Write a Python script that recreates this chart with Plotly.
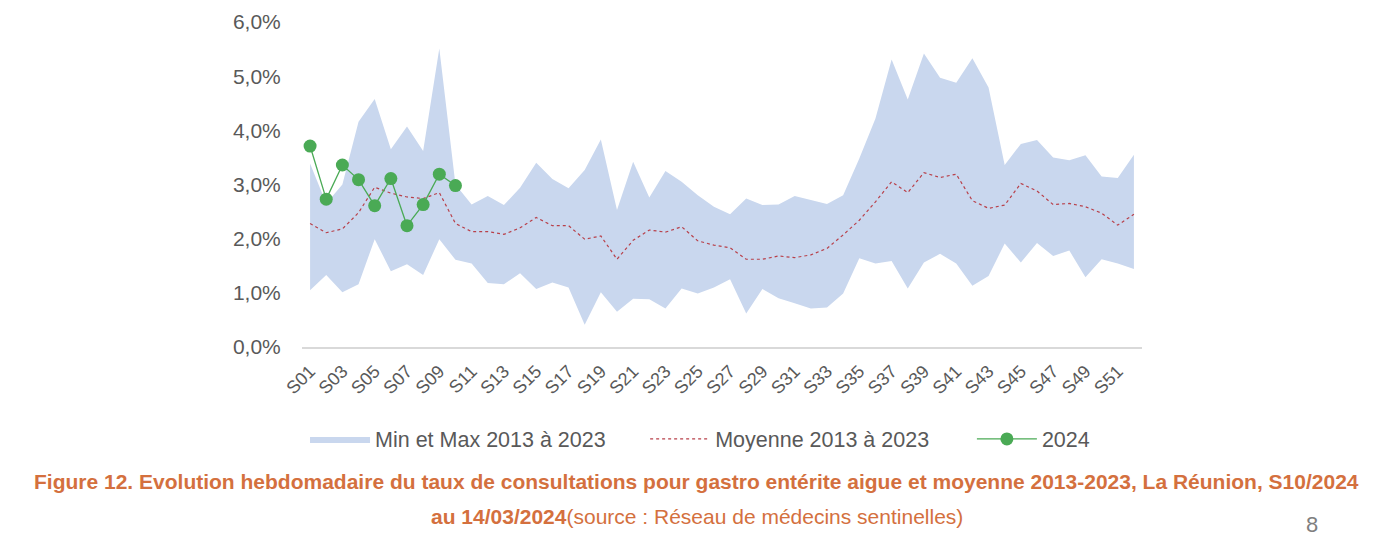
import plotly.graph_objects as go

weeks = ["S%02d" % i for i in range(1, 53)]

max_2013_2023 = [3.39, 2.65, 3.00, 4.16, 4.58, 3.65, 4.07, 3.62, 5.51, 3.00,
                 2.63, 2.79, 2.62, 2.94, 3.40, 3.10, 2.93, 3.27, 3.83, 2.53,
                 3.42, 2.76, 3.25, 3.05, 2.80, 2.59, 2.45, 2.74, 2.62, 2.63,
                 2.79, 2.72, 2.64, 2.80, 3.48, 4.22, 5.31, 4.57, 5.42, 4.97,
                 4.88, 5.33, 4.79, 3.36, 3.75, 3.82, 3.50, 3.45, 3.54, 3.15,
                 3.12, 3.55]
min_2013_2023 = [1.05, 1.33, 1.01, 1.16, 1.99, 1.40, 1.53, 1.33, 1.99, 1.61,
                 1.54, 1.18, 1.16, 1.36, 1.07, 1.19, 1.10, 0.41, 1.01, 0.65,
                 0.89, 0.88, 0.71, 1.08, 0.99, 1.10, 1.25, 0.62, 1.07, 0.90,
                 0.81, 0.71, 0.73, 0.99, 1.64, 1.54, 1.59, 1.08, 1.56, 1.72,
                 1.54, 1.13, 1.31, 1.91, 1.56, 1.92, 1.68, 1.78, 1.29, 1.62,
                 1.54, 1.44]
moyenne_2013_2023 = [2.28, 2.11, 2.18, 2.48, 2.95, 2.84, 2.77, 2.74, 2.85, 2.28,
                     2.13, 2.13, 2.08, 2.20, 2.39, 2.24, 2.24, 1.99, 2.05, 1.62,
                     1.97, 2.16, 2.12, 2.22, 1.96, 1.88, 1.83, 1.62, 1.62, 1.68,
                     1.65, 1.70, 1.82, 2.07, 2.34, 2.68, 3.05, 2.85, 3.22, 3.13,
                     3.19, 2.70, 2.56, 2.62, 3.02, 2.88, 2.63, 2.65, 2.59, 2.47,
                     2.25, 2.45]
taux_2024 = [3.71, 2.73, 3.36, 3.09, 2.61, 3.11, 2.24, 2.63, 3.19, 2.98]

y_tickvals = [0, 1, 2, 3, 4, 5, 6]
y_ticktext = ["0,0%", "1,0%", "2,0%", "3,0%", "4,0%", "5,0%", "6,0%"]
x_tickvals = weeks[0:51:2]

band_color = "#c9d7ee"
mean_color = "#b8404a"
green = "#4aaa55"
caption_color = "#d4703e"
caption_font = "Liberation Sans, Arial, sans-serif"

fig = go.Figure()
fig.add_trace(go.Scatter(x=weeks, y=min_2013_2023, mode="lines",
                         line=dict(width=0, color=band_color),
                         showlegend=False, hoverinfo="skip"))
fig.add_trace(go.Scatter(x=weeks, y=max_2013_2023, mode="lines",
                         line=dict(width=0, color=band_color),
                         fill="tonexty", fillcolor=band_color,
                         name="Min et Max 2013 à 2023", legend="legend"))
fig.add_trace(go.Scatter(x=weeks, y=moyenne_2013_2023, mode="lines",
                         line=dict(width=1.2, color=mean_color, dash="dot"),
                         name="Moyenne 2013 à 2023", legend="legend2"))
fig.add_trace(go.Scatter(x=weeks[:len(taux_2024)], y=taux_2024, mode="lines+markers",
                         line=dict(width=1.3, color=green),
                         marker=dict(size=13, color=green),
                         name="2024", legend="legend3"))

legend_common = dict(orientation="h", xanchor="left", y=-0.283, yanchor="middle",
                     font=dict(size=21.5, color="#595959"), itemwidth=60,
                     bgcolor="rgba(0,0,0,0)")

fig.update_layout(
    width=1374, height=530,
    margin=dict(l=294, r=240, t=14, b=191, autoexpand=False),
    plot_bgcolor="white", paper_bgcolor="white",
    font=dict(family="Liberation Sans, Arial, sans-serif", color="#595959"),
    xaxis=dict(type="category", categoryorder="array", categoryarray=weeks,
               range=[-0.5, 51.5], tickvals=x_tickvals, tickangle=-45,
               tickfont=dict(size=18, color="#595959"),
               showgrid=False, showline=True, linecolor="#d9d9d9", linewidth=1.5,
               ticks="outside", ticklen=5, tickcolor="rgba(0,0,0,0)",
               zeroline=False, automargin=False),
    yaxis=dict(range=[0, 6], tickvals=y_tickvals, ticktext=y_ticktext,
               tickfont=dict(size=21, color="#595959"), showgrid=False,
               showline=False, zeroline=False, ticks="outside", ticklen=16,
               tickcolor="rgba(0,0,0,0)", automargin=False),
    legend=dict(x=0.0036, **legend_common),
    legend2=dict(x=0.4085, **legend_common),
    legend3=dict(x=0.7975, **legend_common),
    showlegend=True,
)

fig.add_annotation(xref="paper", yref="paper", x=0.470, xanchor="center",
                   y=-0.415, yanchor="middle", showarrow=False,
                   text="<b>Figure 12. Evolution hebdomadaire du taux de consultations pour gastro entérite aigue et moyenne 2013-2023, La Réunion, S10/2024</b>",
                   font=dict(family=caption_font, size=21, color=caption_color))
fig.add_annotation(xref="paper", yref="paper", x=0.470, xanchor="center",
                   y=-0.52, yanchor="middle", showarrow=False,
                   text="<b>au 14/03/2024</b>(source : Réseau de médecins sentinelles)",
                   font=dict(family=caption_font, size=21, color=caption_color))
fig.add_annotation(xref="paper", yref="paper", x=1.202, xanchor="center",
                   y=-0.545, yanchor="middle", showarrow=False, text="8",
                   font=dict(family=caption_font, size=22, color="#7f7f7f"))

fig.write_html("out.html")
